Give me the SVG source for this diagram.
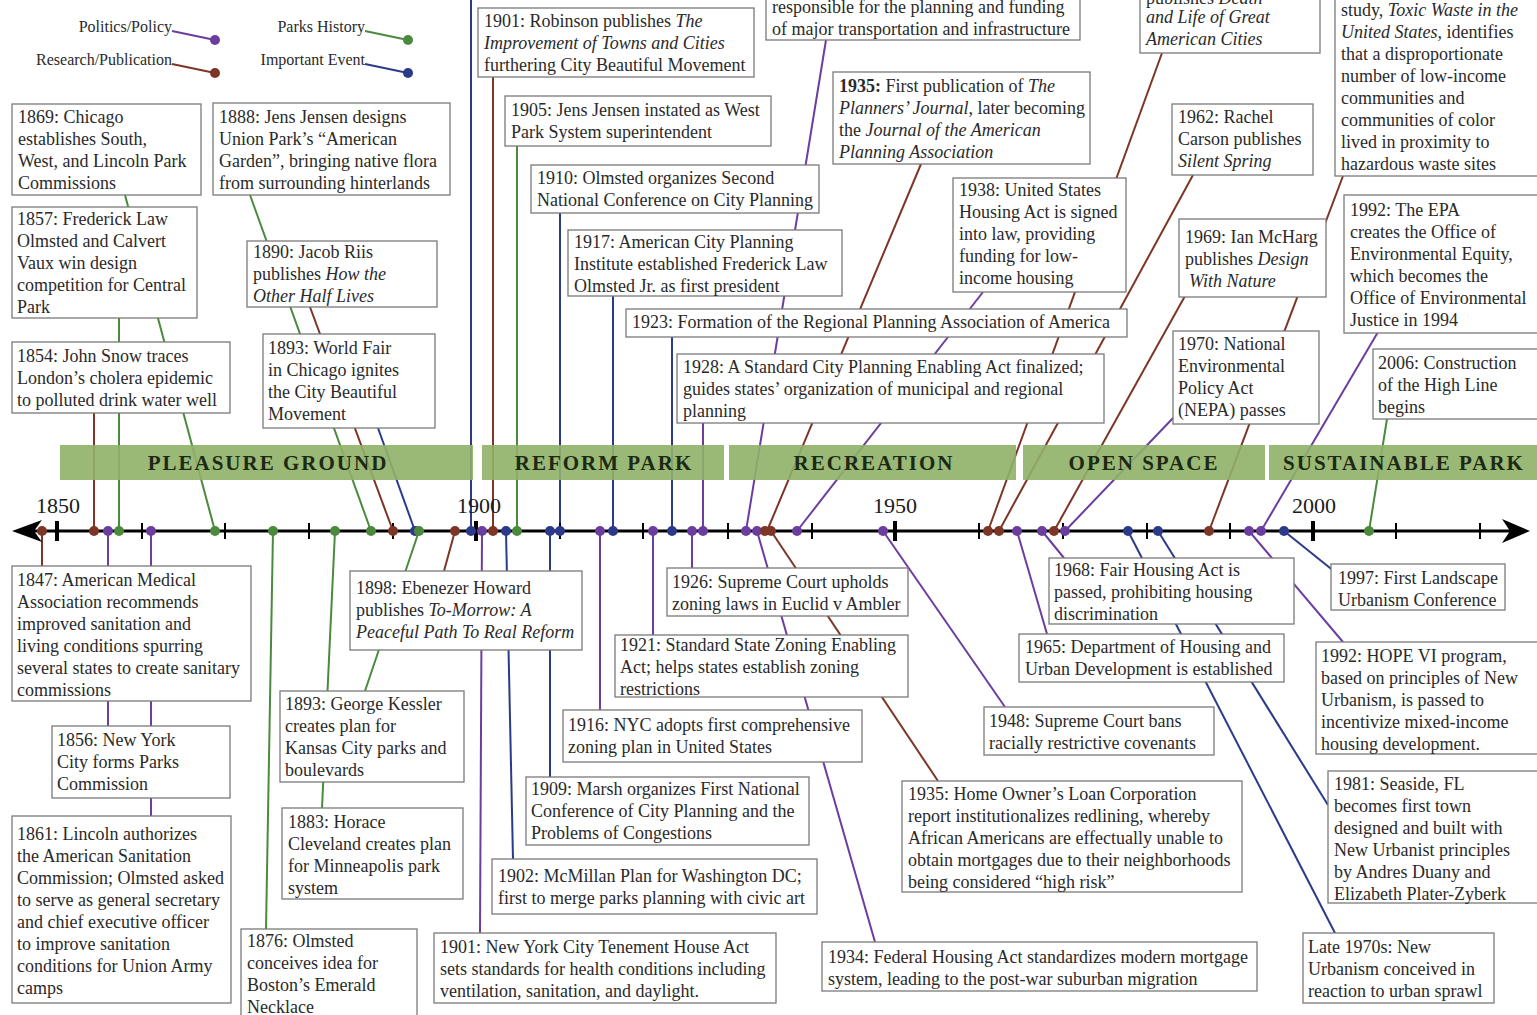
<svg xmlns="http://www.w3.org/2000/svg" width="1537" height="1015" viewBox="0 0 1537 1015">
<style>
  .bx{fill:#fff;stroke:#7a7a7a;stroke-width:1.3}
  .t{font-family:"Liberation Serif","Times New Roman",serif;font-size:18px;fill:#2a2a2a}
  .i{font-style:italic}
  .b{font-weight:bold}
  .lg{font-family:"Liberation Serif","Times New Roman",serif;font-size:16px;fill:#2a2a2a;text-anchor:end}
  .yr{font-family:"Liberation Serif","Times New Roman",serif;font-size:22px;fill:#1a1a1a;text-anchor:middle}
  .band{fill:#8fb168;opacity:0.9}
  .bt{font-family:"Liberation Serif","Times New Roman",serif;font-size:21px;font-weight:bold;fill:#1c2a14;text-anchor:middle;letter-spacing:2px}
  .cn line{stroke-width:2;fill:none}
  .pp{stroke:#6b3d9e}
  .rp{stroke:#7d3626}
  .ph{stroke:#4b8a3c}
  .ie{stroke:#2c3a8a}
  .dpp{fill:#6b3d9e}
  .drp{fill:#7d3626}
  .dph{fill:#4b8a3c}
  .die{fill:#2c3a8a}
  .tick{stroke:#000;stroke-width:2}
  .major{stroke:#000;stroke-width:4}
</style>

<rect width="1537" height="1015" fill="#fff"/>

<!-- legend -->
<g id="legend">
  <text class="lg" x="172" y="32">Politics/Policy</text>
  <line class="pp" x1="172" y1="31" x2="215" y2="40" stroke-width="2"/>
  <circle class="dpp" cx="215" cy="40" r="5"/>
  <text class="lg" x="172" y="65">Research/Publication</text>
  <line class="rp" x1="172" y1="64" x2="215" y2="73" stroke-width="2"/>
  <circle class="drp" cx="215" cy="73" r="5"/>
  <text class="lg" x="365" y="32">Parks History</text>
  <line class="ph" x1="365" y1="31" x2="408" y2="40" stroke-width="2"/>
  <circle class="dph" cx="408" cy="40" r="5"/>
  <text class="lg" x="365" y="65">Important Event</text>
  <line class="ie" x1="365" y1="64" x2="408" y2="73" stroke-width="2"/>
  <circle class="die" cx="408" cy="73" r="5"/>
</g>

<!-- connectors: from the year on the axis to the event box -->
<g id="connectors" class="cn">
  <line class="rp" x1="42" y1="531" x2="42" y2="566"/>
  <line class="rp" x1="94" y1="531" x2="94" y2="413"/>
  <line class="rp" x1="393" y1="531" x2="310" y2="307"/>
  <line class="rp" x1="455" y1="531" x2="444" y2="571"/>
  <line class="rp" x1="493" y1="531" x2="493" y2="77"/>
  <line class="rp" x1="767" y1="531" x2="921" y2="164"/>
  <line class="rp" x1="771" y1="531" x2="938" y2="781"/>
  <line class="rp" x1="988" y1="531" x2="1162" y2="53"/>
  <line class="rp" x1="999" y1="531" x2="1193" y2="175"/>
  <line class="rp" x1="1054" y1="531" x2="1185" y2="296"/>
  <line class="rp" x1="1209" y1="531" x2="1343" y2="176"/>

  <line class="pp" x1="108" y1="531" x2="108" y2="726"/>
  <line class="pp" x1="151" y1="531" x2="151" y2="816"/>
  <line class="pp" x1="482" y1="531" x2="480" y2="933"/>
  <line class="pp" x1="600" y1="531" x2="600" y2="710"/>
  <line class="pp" x1="653" y1="531" x2="653" y2="635"/>
  <line class="pp" x1="692" y1="531" x2="692" y2="568"/>
  <line class="pp" x1="703" y1="531" x2="703" y2="423"/>
  <line class="pp" x1="746" y1="531" x2="826" y2="40"/>
  <line class="pp" x1="757" y1="531" x2="875" y2="942"/>
  <line class="pp" x1="797" y1="531" x2="983" y2="292"/>
  <line class="pp" x1="883" y1="531" x2="1005" y2="707"/>
  <line class="pp" x1="1017" y1="531" x2="1047" y2="634"/>
  <line class="pp" x1="1042" y1="531" x2="1064" y2="558"/>
  <line class="pp" x1="1065" y1="531" x2="1174" y2="417"/>
  <line class="pp" x1="1249" y1="531" x2="1343" y2="642"/>
  <line class="pp" x1="1261" y1="531" x2="1378" y2="332"/>

  <line class="ph" x1="119" y1="531" x2="119" y2="318"/>
  <line class="ph" x1="215" y1="531" x2="125" y2="195"/>
  <line class="ph" x1="273" y1="531" x2="266" y2="929"/>
  <line class="ph" x1="335" y1="531" x2="322" y2="808"/>
  <line class="ph" x1="371" y1="531" x2="250" y2="195"/>
  <line class="ph" x1="419" y1="531" x2="365" y2="691"/>
  <line class="ph" x1="517" y1="531" x2="517" y2="146"/>
  <line class="ph" x1="1369" y1="531" x2="1387" y2="419"/>

  <line class="ie" x1="415" y1="531" x2="378" y2="428"/>
  <line class="ie" x1="471" y1="531" x2="471" y2="0"/>
  <line class="ie" x1="506" y1="531" x2="513" y2="859"/>
  <line class="ie" x1="550" y1="531" x2="550" y2="777"/>
  <line class="ie" x1="560" y1="531" x2="560" y2="213"/>
  <line class="ie" x1="613" y1="531" x2="613" y2="296"/>
  <line class="ie" x1="672" y1="531" x2="672" y2="337"/>
  <line class="ie" x1="1128" y1="531" x2="1335" y2="933"/>
  <line class="ie" x1="1158" y1="531" x2="1328" y2="805"/>
  <line class="ie" x1="1284" y1="531" x2="1335" y2="572"/>
</g>

<!-- era bands -->
<g id="eras">
  <rect class="band" x="60" y="445" width="413" height="35"/>
  <rect class="band" x="482" y="445" width="242" height="35"/>
  <rect class="band" x="729" y="445" width="287" height="35"/>
  <rect class="band" x="1023" y="445" width="242" height="35"/>
  <rect class="band" x="1269" y="445" width="268" height="35"/>
  <text class="bt" x="268" y="470">PLEASURE GROUND</text>
  <text class="bt" x="604" y="470">REFORM PARK</text>
  <text class="bt" x="874" y="470">RECREATION</text>
  <text class="bt" x="1144" y="470">OPEN SPACE</text>
  <text class="bt" x="1404" y="470">SUSTAINABLE PARK</text>
</g>

<!-- time axis -->
<g id="axis">
  <line x1="30" y1="531" x2="1512" y2="531" stroke="#000" stroke-width="3"/>
  <path d="M12,531 L42,520 L34,531 L42,542 Z" fill="#000"/>
  <path d="M1530,531 L1502,519 L1510,531 L1502,543 Z" fill="#000"/>
  <g>
    <line class="major" x1="57" y1="521" x2="57" y2="541"/>
    <line class="major" x1="476" y1="521" x2="476" y2="541"/>
    <line class="major" x1="895" y1="521" x2="895" y2="541"/>
    <line class="major" x1="1313" y1="521" x2="1313" y2="541"/>
    <line class="tick" x1="142" y1="523" x2="142" y2="539"/>
    <line class="tick" x1="225" y1="523" x2="225" y2="539"/>
    <line class="tick" x1="309" y1="523" x2="309" y2="539"/>
    <line class="tick" x1="393" y1="523" x2="393" y2="539"/>
    <line class="tick" x1="560" y1="523" x2="560" y2="539"/>
    <line class="tick" x1="643" y1="523" x2="643" y2="539"/>
    <line class="tick" x1="728" y1="523" x2="728" y2="539"/>
    <line class="tick" x1="812" y1="523" x2="812" y2="539"/>
    <line class="tick" x1="979" y1="523" x2="979" y2="539"/>
    <line class="tick" x1="1063" y1="523" x2="1063" y2="539"/>
    <line class="tick" x1="1147" y1="523" x2="1147" y2="539"/>
    <line class="tick" x1="1230" y1="523" x2="1230" y2="539"/>
    <line class="tick" x1="1396" y1="523" x2="1396" y2="539"/>
    <line class="tick" x1="1480" y1="523" x2="1480" y2="539"/>
  </g>
  <text class="yr" x="58" y="513">1850</text>
  <text class="yr" x="479" y="513">1900</text>
  <text class="yr" x="895" y="513">1950</text>
  <text class="yr" x="1314" y="513">2000</text>
  <g id="dots">
    <circle class="drp" cx="42" cy="531" r="5"/>
    <circle class="drp" cx="94" cy="531" r="5"/>
    <circle class="dpp" cx="108" cy="531" r="5"/>
    <circle class="dph" cx="119" cy="531" r="5"/>
    <circle class="dpp" cx="151" cy="531" r="5"/>
    <circle class="dph" cx="215" cy="531" r="5"/>
    <circle class="dph" cx="273" cy="531" r="5"/>
    <circle class="dph" cx="335" cy="531" r="5"/>
    <circle class="dph" cx="371" cy="531" r="5"/>
    <circle class="drp" cx="393" cy="531" r="5"/>
    <circle class="die" cx="415" cy="531" r="5"/>
    <circle class="dph" cx="419" cy="531" r="5"/>
    <circle class="drp" cx="455" cy="531" r="5"/>
    <circle class="die" cx="471" cy="531" r="5"/>
    <circle class="dpp" cx="482" cy="531" r="5"/>
    <circle class="drp" cx="493" cy="531" r="5"/>
    <circle class="die" cx="506" cy="531" r="5"/>
    <circle class="dph" cx="517" cy="531" r="5"/>
    <circle class="die" cx="550" cy="531" r="5"/>
    <circle class="die" cx="560" cy="531" r="5"/>
    <circle class="dpp" cx="600" cy="531" r="5"/>
    <circle class="die" cx="613" cy="531" r="5"/>
    <circle class="dpp" cx="653" cy="531" r="5"/>
    <circle class="die" cx="672" cy="531" r="5"/>
    <circle class="dpp" cx="692" cy="531" r="5"/>
    <circle class="dpp" cx="703" cy="531" r="5"/>
    <circle class="dpp" cx="746" cy="531" r="5"/>
    <circle class="dpp" cx="757" cy="531" r="5"/>
    <circle class="drp" cx="765" cy="531" r="5"/>
    <circle class="drp" cx="771" cy="531" r="5"/>
    <circle class="dpp" cx="797" cy="531" r="5"/>
    <circle class="dpp" cx="883" cy="531" r="5"/>
    <circle class="drp" cx="988" cy="531" r="5"/>
    <circle class="drp" cx="999" cy="531" r="5"/>
    <circle class="dpp" cx="1017" cy="531" r="5"/>
    <circle class="dpp" cx="1042" cy="531" r="5"/>
    <circle class="drp" cx="1054" cy="531" r="5"/>
    <circle class="dpp" cx="1065" cy="531" r="5"/>
    <circle class="die" cx="1128" cy="531" r="5"/>
    <circle class="die" cx="1158" cy="531" r="5"/>
    <circle class="drp" cx="1209" cy="531" r="5"/>
    <circle class="dpp" cx="1249" cy="531" r="5"/>
    <circle class="dpp" cx="1261" cy="531" r="5"/>
    <circle class="die" cx="1284" cy="531" r="5"/>
    <circle class="dph" cx="1369" cy="531" r="5"/>
  </g>
</g>

<!-- events above the axis -->
<g id="n1869"><rect class="bx" x="12" y="104" width="189" height="91"/>
  <text class="t" y="123"><tspan x="18">1869: Chicago</tspan><tspan x="18" dy="22">establishes South,</tspan><tspan x="18" dy="22">West, and Lincoln Park</tspan><tspan x="18" dy="22">Commissions</tspan></text></g>
<g id="n1888"><rect class="bx" x="213" y="103" width="237" height="92"/>
  <text class="t" y="123"><tspan x="219">1888: Jens Jensen designs</tspan><tspan x="219" dy="22">Union Park’s “American</tspan><tspan x="219" dy="22">Garden”, bringing native flora</tspan><tspan x="219" dy="22">from surrounding hinterlands</tspan></text></g>
<g id="n1857"><rect class="bx" x="12" y="207" width="185" height="111"/>
  <text class="t" y="225"><tspan x="17">1857: Frederick Law</tspan><tspan x="17" dy="22">Olmsted and Calvert</tspan><tspan x="17" dy="22">Vaux win design</tspan><tspan x="17" dy="22">competition for Central</tspan><tspan x="17" dy="22">Park</tspan></text></g>
<g id="n1890"><rect class="bx" x="247" y="241" width="190" height="66"/>
  <text class="t" y="258"><tspan x="253">1890: Jacob Riis</tspan><tspan x="253" dy="22">publishes <tspan class="i">How the</tspan></tspan><tspan x="253" dy="22" class="i">Other Half Lives</tspan></text></g>
<g id="n1854"><rect class="bx" x="12" y="342" width="218" height="71"/>
  <text class="t" y="362"><tspan x="17">1854: John Snow traces</tspan><tspan x="17" dy="22">London’s cholera epidemic</tspan><tspan x="17" dy="22">to polluted drink water well</tspan></text></g>
<g id="n1893a"><rect class="bx" x="263" y="334" width="172" height="94"/>
  <text class="t" y="354"><tspan x="268">1893: World Fair</tspan><tspan x="268" dy="22">in Chicago ignites</tspan><tspan x="268" dy="22">the City Beautiful</tspan><tspan x="268" dy="22">Movement</tspan></text></g>

<g id="n1901a"><rect class="bx" x="478" y="8" width="276" height="69"/>
  <text class="t" y="27"><tspan x="484">1901: Robinson publishes <tspan class="i">The</tspan></tspan><tspan x="484" dy="22" class="i">Improvement of Towns and Cities</tspan><tspan x="484" dy="22">furthering City Beautiful Movement</tspan></text></g>
<g id="n1905"><rect class="bx" x="505" y="96" width="266" height="50"/>
  <text class="t" y="116"><tspan x="511">1905: Jens Jensen instated as West</tspan><tspan x="511" dy="22">Park System superintendent</tspan></text></g>
<g id="n1910"><rect class="bx" x="531" y="165" width="288" height="48"/>
  <text class="t" y="184"><tspan x="537">1910: Olmsted organizes Second</tspan><tspan x="537" dy="22">National Conference on City Planning</tspan></text></g>
<g id="n1917"><rect class="bx" x="568" y="230" width="274" height="66"/>
  <text class="t" y="248"><tspan x="574">1917: American City Planning</tspan><tspan x="574" dy="22">Institute established Frederick Law</tspan><tspan x="574" dy="22">Olmsted Jr. as first president</tspan></text></g>
<g id="n1923"><rect class="bx" x="626" y="309" width="501" height="28"/>
  <text class="t" x="632" y="328">1923: Formation of the Regional Planning Association of America</text></g>
<g id="n1928"><rect class="bx" x="677" y="354" width="427" height="69"/>
  <text class="t" y="373"><tspan x="683">1928: A Standard City Planning Enabling Act finalized;</tspan><tspan x="683" dy="22">guides states’ organization of municipal and regional</tspan><tspan x="683" dy="22">planning</tspan></text></g>
<g id="nTransport"><rect class="bx" x="766" y="-20" width="314" height="60"/>
  <text class="t" y="13"><tspan x="772">responsible for the planning and funding</tspan><tspan x="772" dy="22">of major transportation and infrastructure</tspan></text></g>
<g id="n1935a"><rect class="bx" x="833" y="72" width="257" height="92"/>
  <text class="t" y="92"><tspan x="839"><tspan class="b">1935:</tspan> First publication of <tspan class="i">The</tspan></tspan><tspan x="839" dy="22"><tspan class="i">Planners’ Journal</tspan>, later becoming</tspan><tspan x="839" dy="22">the <tspan class="i">Journal of the American</tspan></tspan><tspan x="839" dy="22" class="i">Planning Association</tspan></text></g>
<g id="n1938"><rect class="bx" x="953" y="178" width="173" height="114"/>
  <text class="t" y="196"><tspan x="959">1938: United States</tspan><tspan x="959" dy="22">Housing Act is signed</tspan><tspan x="959" dy="22">into law, providing</tspan><tspan x="959" dy="22">funding for low-</tspan><tspan x="959" dy="22">income housing</tspan></text></g>
<g id="n1961"><rect class="bx" x="1140" y="-20" width="180" height="73"/>
  <text class="t" y="4"><tspan x="1146">publishes <tspan class="i">Death</tspan></tspan><tspan x="1146" dy="19" class="i">and Life of Great</tspan><tspan x="1146" dy="22" class="i">American Cities</tspan></text></g>
<g id="n1962"><rect class="bx" x="1172" y="104" width="141" height="71"/>
  <text class="t" y="123"><tspan x="1178">1962: Rachel</tspan><tspan x="1178" dy="22">Carson publishes</tspan><tspan x="1178" dy="22" class="i">Silent Spring</tspan></text></g>
<g id="n1987"><rect class="bx" x="1335" y="-20" width="220" height="196"/>
  <text class="t" y="16"><tspan x="1341">study, <tspan class="i">Toxic Waste in the</tspan></tspan><tspan x="1341" dy="22"><tspan class="i">United States,</tspan> identifies</tspan><tspan x="1341" dy="22">that a disproportionate</tspan><tspan x="1341" dy="22">number of low-income</tspan><tspan x="1341" dy="22">communities and</tspan><tspan x="1341" dy="22">communities of color</tspan><tspan x="1341" dy="22">lived in proximity to</tspan><tspan x="1341" dy="22">hazardous waste sites</tspan></text></g>
<g id="n1969"><rect class="bx" x="1179" y="219" width="147" height="78"/>
  <text class="t" y="243"><tspan x="1185">1969: Ian McHarg</tspan><tspan x="1185" dy="22">publishes <tspan class="i">Design</tspan></tspan><tspan x="1189" dy="22" class="i">With Nature</tspan></text></g>
<g id="n1992a"><rect class="bx" x="1344" y="195" width="210" height="138"/>
  <text class="t" y="216"><tspan x="1350">1992: The EPA</tspan><tspan x="1350" dy="22">creates the Office of</tspan><tspan x="1350" dy="22">Environmental Equity,</tspan><tspan x="1350" dy="22">which becomes the</tspan><tspan x="1350" dy="22">Office of Environmental</tspan><tspan x="1350" dy="22">Justice in 1994</tspan></text></g>
<g id="n1970"><rect class="bx" x="1173" y="331" width="146" height="93"/>
  <text class="t" y="350"><tspan x="1178">1970: National</tspan><tspan x="1178" dy="22">Environmental</tspan><tspan x="1178" dy="22">Policy Act</tspan><tspan x="1178" dy="22">(NEPA) passes</tspan></text></g>
<g id="n2006"><rect class="bx" x="1373" y="349" width="180" height="70"/>
  <text class="t" y="369"><tspan x="1378">2006: Construction</tspan><tspan x="1378" dy="22">of the High Line</tspan><tspan x="1378" dy="22">begins</tspan></text></g>

<!-- events below the axis -->
<g id="n1847"><rect class="bx" x="12" y="566" width="239" height="135"/>
  <text class="t" y="586"><tspan x="17">1847: American Medical</tspan><tspan x="17" dy="22">Association recommends</tspan><tspan x="17" dy="22">improved sanitation and</tspan><tspan x="17" dy="22">living conditions spurring</tspan><tspan x="17" dy="22">several states to create sanitary</tspan><tspan x="17" dy="22">commissions</tspan></text></g>
<g id="n1856"><rect class="bx" x="52" y="726" width="178" height="72"/>
  <text class="t" y="746"><tspan x="57">1856: New York</tspan><tspan x="57" dy="22">City forms Parks</tspan><tspan x="57" dy="22">Commission</tspan></text></g>
<g id="n1861"><rect class="bx" x="12" y="816" width="219" height="187"/>
  <text class="t" y="840"><tspan x="17">1861: Lincoln authorizes</tspan><tspan x="17" dy="22">the American Sanitation</tspan><tspan x="17" dy="22">Commission; Olmsted asked</tspan><tspan x="17" dy="22">to serve as general secretary</tspan><tspan x="17" dy="22">and chief executive officer</tspan><tspan x="17" dy="22">to improve sanitation</tspan><tspan x="17" dy="22">conditions for Union Army</tspan><tspan x="17" dy="22">camps</tspan></text></g>
<g id="n1876"><rect class="bx" x="241" y="929" width="176" height="100"/>
  <text class="t" y="947"><tspan x="247">1876: Olmsted</tspan><tspan x="247" dy="22">conceives idea for</tspan><tspan x="247" dy="22">Boston’s Emerald</tspan><tspan x="247" dy="22">Necklace</tspan></text></g>
<g id="n1883"><rect class="bx" x="282" y="808" width="181" height="91"/>
  <text class="t" y="828"><tspan x="288">1883: Horace</tspan><tspan x="288" dy="22">Cleveland creates plan</tspan><tspan x="288" dy="22">for Minneapolis park</tspan><tspan x="288" dy="22">system</tspan></text></g>
<g id="n1893b"><rect class="bx" x="280" y="691" width="184" height="91"/>
  <text class="t" y="710"><tspan x="285">1893: George Kessler</tspan><tspan x="285" dy="22">creates plan for</tspan><tspan x="285" dy="22">Kansas City parks and</tspan><tspan x="285" dy="22">boulevards</tspan></text></g>
<g id="n1898"><rect class="bx" x="350" y="571" width="232" height="79"/>
  <text class="t" y="594"><tspan x="356">1898: Ebenezer Howard</tspan><tspan x="356" dy="22">publishes <tspan class="i">To-Morrow: A</tspan></tspan><tspan x="356" dy="22" class="i">Peaceful Path To Real Reform</tspan></text></g>
<g id="n1901b"><rect class="bx" x="434" y="933" width="342" height="70"/>
  <text class="t" y="953"><tspan x="440">1901: New York City Tenement House Act</tspan><tspan x="440" dy="22">sets standards for health conditions including</tspan><tspan x="440" dy="22">ventilation, sanitation, and daylight.</tspan></text></g>
<g id="n1902"><rect class="bx" x="492" y="859" width="325" height="55"/>
  <text class="t" y="882"><tspan x="498">1902: McMillan Plan for Washington DC;</tspan><tspan x="498" dy="22">first to merge parks planning with civic art</tspan></text></g>
<g id="n1909"><rect class="bx" x="526" y="777" width="283" height="68"/>
  <text class="t" y="795"><tspan x="531">1909: Marsh organizes First National</tspan><tspan x="531" dy="22">Conference of City Planning and the</tspan><tspan x="531" dy="22">Problems of Congestions</tspan></text></g>
<g id="n1916"><rect class="bx" x="563" y="710" width="299" height="52"/>
  <text class="t" y="731"><tspan x="568">1916: NYC adopts first comprehensive</tspan><tspan x="568" dy="22">zoning plan in United States</tspan></text></g>
<g id="n1921"><rect class="bx" x="615" y="635" width="293" height="62"/>
  <text class="t" y="651"><tspan x="620">1921: Standard State Zoning Enabling</tspan><tspan x="620" dy="22">Act; helps states establish zoning</tspan><tspan x="620" dy="22">restrictions</tspan></text></g>
<g id="n1926"><rect class="bx" x="667" y="568" width="241" height="48"/>
  <text class="t" y="588"><tspan x="672">1926: Supreme Court upholds</tspan><tspan x="672" dy="22">zoning laws in Euclid v Ambler</tspan></text></g>
<g id="n1934"><rect class="bx" x="822" y="942" width="435" height="49"/>
  <text class="t" y="963"><tspan x="828">1934: Federal Housing Act standardizes modern mortgage</tspan><tspan x="828" dy="22">system, leading to the post-war suburban migration</tspan></text></g>
<g id="n1935b"><rect class="bx" x="902" y="781" width="340" height="111"/>
  <text class="t" y="800"><tspan x="908">1935: Home Owner’s Loan Corporation</tspan><tspan x="908" dy="22">report institutionalizes redlining, whereby</tspan><tspan x="908" dy="22">African Americans are effectually unable to</tspan><tspan x="908" dy="22">obtain mortgages due to their neighborhoods</tspan><tspan x="908" dy="22">being considered “high risk”</tspan></text></g>
<g id="n1948"><rect class="bx" x="984" y="707" width="230" height="48"/>
  <text class="t" y="727"><tspan x="989">1948: Supreme Court bans</tspan><tspan x="989" dy="22">racially restrictive covenants</tspan></text></g>
<g id="n1965"><rect class="bx" x="1019" y="634" width="265" height="48"/>
  <text class="t" y="653"><tspan x="1025">1965: Department of Housing and</tspan><tspan x="1025" dy="22">Urban Development is established</tspan></text></g>
<g id="n1968"><rect class="bx" x="1049" y="558" width="245" height="66"/>
  <text class="t" y="576"><tspan x="1054">1968: Fair Housing Act is</tspan><tspan x="1054" dy="22">passed, prohibiting housing</tspan><tspan x="1054" dy="22">discrimination</tspan></text></g>
<g id="n1997"><rect class="bx" x="1331" y="564" width="174" height="46"/>
  <text class="t" y="584"><tspan x="1338">1997: First Landscape</tspan><tspan x="1338" dy="22">Urbanism Conference</tspan></text></g>
<g id="n1992b"><rect class="bx" x="1316" y="642" width="230" height="112"/>
  <text class="t" y="662"><tspan x="1321">1992: HOPE VI program,</tspan><tspan x="1321" dy="22">based on principles of New</tspan><tspan x="1321" dy="22">Urbanism, is passed to</tspan><tspan x="1321" dy="22">incentivize mixed-income</tspan><tspan x="1321" dy="22">housing development.</tspan></text></g>
<g id="n1981"><rect class="bx" x="1328" y="771" width="220" height="132"/>
  <text class="t" y="790"><tspan x="1334">1981: Seaside, FL</tspan><tspan x="1334" dy="22">becomes first town</tspan><tspan x="1334" dy="22">designed and built with</tspan><tspan x="1334" dy="22">New Urbanist principles</tspan><tspan x="1334" dy="22">by Andres Duany and</tspan><tspan x="1334" dy="22">Elizabeth Plater-Zyberk</tspan></text></g>
<g id="nLate1970s"><rect class="bx" x="1303" y="933" width="191" height="70"/>
  <text class="t" y="953"><tspan x="1308">Late 1970s: New</tspan><tspan x="1308" dy="22">Urbanism conceived in</tspan><tspan x="1308" dy="22">reaction to urban sprawl</tspan></text></g>
</svg>
